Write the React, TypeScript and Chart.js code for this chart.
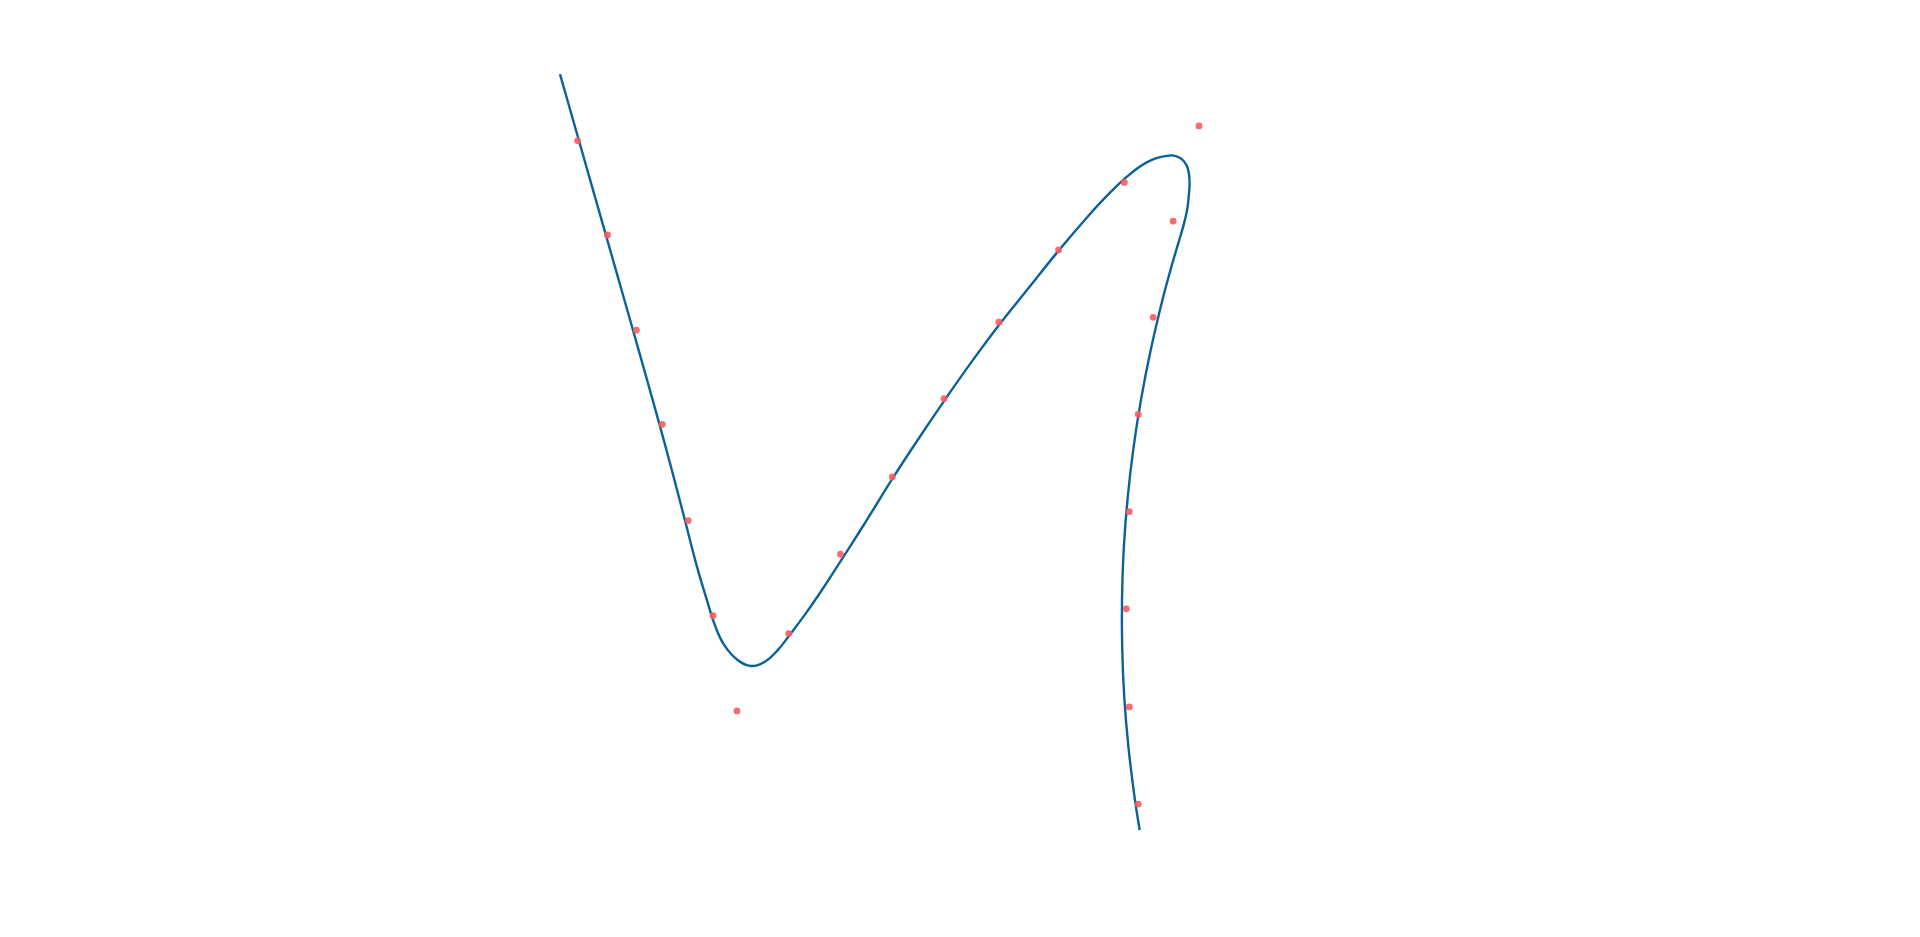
import React, { useEffect, useRef } from "react";
import { Chart, registerables } from "chart.js";

Chart.register(...registerables);

// Observed data points (red)
const pointX = [5.76, 6.06, 6.35, 6.61, 6.87, 7.12, 7.36, 7.88, 8.40, 8.92, 9.44, 9.99, 10.59, 11.25, 12.00, 11.74, 11.54, 11.39, 11.30, 11.27, 11.30, 11.39];
const pointY = [7.99, 7.04, 6.08, 5.13, 4.16, 3.20, 2.24, 3.02, 3.82, 4.60, 5.39, 6.16, 6.89, 7.57, 8.14, 7.18, 6.21, 5.23, 4.25, 3.27, 2.28, 1.30];

// Fitted smooth curve (blue), positions
const curveX = [
  5.583, 5.723, 5.865, 6.007, 6.149, 6.291, 6.432, 6.571, 6.706, 6.836,
  6.96, 7.055, 7.14, 7.233, 7.367, 7.50, 7.633, 7.767, 7.90, 8.05,
  8.20, 8.35, 8.51, 8.676, 8.92, 9.18, 9.443, 9.716, 9.99, 10.285,
  10.58, 10.89, 11.097, 11.304, 11.51, 11.717, 11.815, 11.875, 11.90, 11.905,
  11.895, 11.88, 11.853, 11.814, 11.766, 11.709, 11.629, 11.513, 11.416, 11.339,
  11.282, 11.244, 11.227, 11.229, 11.25, 11.292, 11.353, 11.404,
];
const curveY = [
  8.663, 8.17, 7.67, 7.17, 6.67, 6.17, 5.67, 5.17, 4.67, 4.17,
  3.69, 3.37, 3.10, 2.903, 2.753, 2.693, 2.731, 2.85, 3.02, 3.221,
  3.439, 3.671, 3.92, 4.185, 4.58, 4.98, 5.37, 5.76, 6.13, 6.50,
  6.87, 7.235, 7.458, 7.652, 7.79, 7.843, 7.815, 7.745, 7.65, 7.54,
  7.41, 7.29, 7.17, 7.03, 6.87, 6.67, 6.37, 5.87, 5.37, 4.87,
  4.37, 3.87, 3.37, 2.87, 2.37, 1.87, 1.37, 1.037,
];

const xRange = [0, 19.2];
const yRange = [0, 9.37];

export default function App() {
  const ref = useRef<HTMLCanvasElement | null>(null);
  useEffect(() => {
    if (!ref.current) return;
    const chart = new Chart(ref.current, {
      type: "scatter",
      data: {
        datasets: [
          {
            label: "points",
            data: pointX.map((x, i) => ({ x, y: pointY[i] })),
            backgroundColor: "rgba(247, 92, 98, 0.9)",
            borderWidth: 0,
            pointRadius: 3.4,
            showLine: false,
            order: 0,
          },
          {
            label: "fit",
            data: curveX.map((x, i) => ({ x, y: curveY[i] })),
            borderColor: "#0a6298",
            borderWidth: 2.4,
            pointRadius: 0,
            showLine: true,
            tension: 0.4,
            fill: false,
            order: 1,
          },
        ],
      },
      options: {
        animation: false,
        responsive: true,
        maintainAspectRatio: false,
        layout: { padding: 0 },
        plugins: { legend: { display: false }, tooltip: { enabled: false } },
        scales: {
          x: { type: "linear", min: xRange[0], max: xRange[1], display: false },
          y: { type: "linear", min: yRange[0], max: yRange[1], display: false },
        },
      },
    });
    return () => chart.destroy();
  }, []);
  return (
    <div style={{ position: "fixed", left: 0, top: 0, width: 1920, height: 937, background: "#fff" }}>
      <canvas ref={ref} />
    </div>
  );
}
